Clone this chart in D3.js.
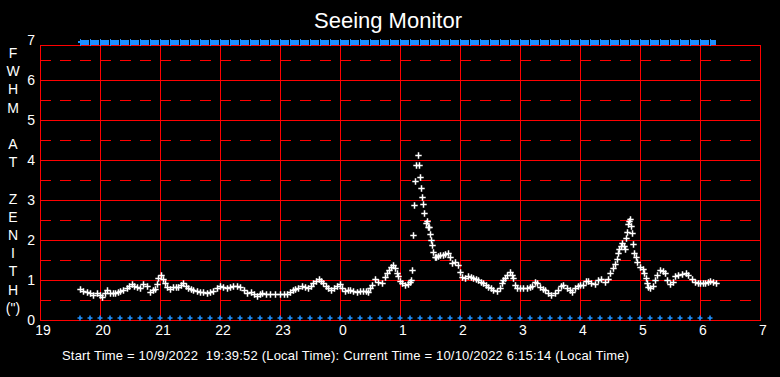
<!DOCTYPE html>
<html><head><meta charset="utf-8">
<script src="https://cdn.jsdelivr.net/npm/d3@7"></script>
<style>html,body{margin:0;padding:0;background:#000;} svg{display:block;}</style>
</head><body><svg id="c" width="780" height="377"></svg>
<script>
const title = "Seeing Monitor";
const yAxisLetters = ["F","W","H","M","","A","T","","Z","E","N","I","T","H","(\")"];
const footer = "Start Time = 10/9/2022  19:39:52 (Local Time): Current Time = 10/10/2022 6:15:14 (Local Time)";
const xTickHours = [19,20,21,22,23,24,25,26,27,28,29,30,31];
const xTickLabels = ["19","20","21","22","23","0","1","2","3","4","5","6","7"];
const yTicks = [0,1,2,3,4,5,6,7];
const yHalfTicks = [0.5,1.5,2.5,3.5,4.5,5.5,6.5];
// minutes after 19:00 on 10/9/2022
const minutes = [40,43,47,50,53,57,60,62,65,67,70,73,75,78,80,83,87,89,92,94,97,100,103,107,110,113,115,117,118,121,123,125,127,130,133,136,138,141,143,146,148,151,153,157,160,163,167,170,173,177,180,183,187,190,193,197,200,204,207,211,214,217,220,222,226,230,235,240,244,247,250,253,255,258,262,265,268,271,273,276,279,281,283,286,288,291,294,297,300,302,305,308,310,313,317,320,323,326,328,330,332,335,338,342,345,347,349,351,353,355,357,358,360,362,365,368,370,371,372,373,374,375,376,378,379,380,381,382,383,384,386,387,388,389,390,391,392,393,395,396,398,400,403,405,408,410,412,415,418,420,422,425,428,431,433,436,438,441,443,446,448,451,453,457,460,462,463,465,467,470,472,473,475,477,480,483,487,490,492,495,497,500,503,505,508,511,515,518,521,523,527,530,532,535,538,540,543,546,548,551,555,558,561,565,568,570,573,575,577,578,579,581,582,584,585,586,587,588,589,590,591,592,593,594,596,597,600,603,604,606,607,608,610,613,615,617,620,623,625,627,630,633,635,638,642,646,648,652,655,658,660,663,665,668,670,673,676];
const fwhm = [.77,.73,.70,.67,.62,.68,.62,.58,.68,.75,.67,.68,.68,.71,.73,.76,.79,.84,.89,.86,.82,.81,.90,.85,.71,.74,.77,.90,1.04,1.12,1.02,.92,.83,.77,.82,.82,.82,.87,.92,.85,.79,.77,.75,.73,.71,.70,.68,.70,.73,.79,.85,.82,.80,.83,.85,.86,.83,.76,.68,.71,.65,.60,.65,.67,.66,.65,.65,.65,.66,.65,.71,.74,.77,.80,.85,.82,.79,.86,.92,.97,1.02,.97,.92,.85,.79,.75,.80,.85,.89,.80,.73,.74,.75,.73,.71,.72,.73,.72,.71,.80,.87,1.02,.96,.92,1.08,1.18,1.25,1.33,1.37,1.29,1.18,1.10,.98,.92,.87,.90,.95,1.0,1.25,2.12,2.87,3.47,3.87,4.12,3.87,3.57,3.29,3.07,2.89,2.67,2.42,2.47,2.33,2.32,2.14,1.99,1.87,1.69,1.58,1.58,1.61,1.62,1.62,1.65,1.67,1.58,1.42,1.46,1.37,1.21,1.08,1.06,1.11,1.08,1.06,1.03,1.0,.96,.92,.88,.83,.79,.75,.73,.79,.92,1.0,1.06,1.12,1.21,1.12,1.04,.87,.81,.79,.79,.79,.83,.85,.96,.92,.83,.77,.74,.68,.62,.68,.76,.85,.87,.79,.75,.71,.79,.84,.87,.87,.97,.97,.93,.89,1.0,1.02,.96,1.02,1.17,1.31,1.40,1.52,1.67,1.77,1.85,1.92,1.85,1.77,2.04,2.21,2.40,2.48,2.52,2.35,2.17,1.89,1.68,1.58,1.46,1.33,1.27,1.18,1.04,.93,.82,.79,.85,1.0,1.12,1.25,1.23,1.17,1.0,.9,.96,1.1,1.12,1.15,1.18,1.12,1.02,.96,.93,.92,.93,.93,.96,.97,.96,.92];
// status flags, every 10 minutes (minutes after 19:00)
const flagMinutes = [40,50,60,70,80,90,100,110,120,130,140,150,160,170,180,190,200,210,220,230,240,250,260,270,280,290,300,310,320,330,340,350,360,370,380,390,400,410,420,430,440,450,460,470,480,490,500,510,520,530,540,550,560,570,580,590,600,610,620,630,640,650,660,670];
const flagEndMinute = 677;
const topFlagValue = 6.94;
const bottomFlagValue = 0.05;

const svg = d3.select("#c");
svg.append("rect").attr("width",780).attr("height",377).attr("fill","#000");
const x = d3.scaleLinear().domain([19,31]).range([40,760]);
const y = d3.scaleLinear().domain([0,7]).range([320,40]);
const h = m => 19 + m/60;
const FONT = "'Liberation Sans', Arial, sans-serif";
const frameTop = y(6.875);

const grid = svg.append("g").attr("shape-rendering","crispEdges").attr("stroke","#ff0000").attr("stroke-width",1);
grid.selectAll("line.v").data(xTickHours.slice(1,-1)).enter().append("line")
  .attr("x1",d=>x(d)).attr("x2",d=>x(d)).attr("y1",frameTop).attr("y2",y(0));
grid.selectAll("line.h").data(yTicks.slice(1,-1)).enter().append("line")
  .attr("x1",x(19)).attr("x2",x(31)).attr("y1",d=>y(d)).attr("y2",d=>y(d));
grid.selectAll("line.d").data(yHalfTicks).enter().append("line")
  .attr("x1",x(19)).attr("x2",x(31)).attr("y1",d=>y(d)).attr("y2",d=>y(d))
  .attr("stroke-dasharray","11 9");
grid.append("rect").attr("x",x(19)).attr("y",frameTop).attr("width",x(31)-x(19)).attr("height",y(0)-frameTop).attr("fill","none");

// top flags
const blue = "#1e90ff";
const tf = svg.append("g").attr("shape-rendering","crispEdges");
tf.selectAll("rect").data(flagMinutes).enter().append("rect")
  .attr("x",d=>Math.round(x(h(d)))+1).attr("y",y(topFlagValue)-2.5)
  .attr("width",d=>Math.round(x(h(Math.min(d+10,flagEndMinute))))-Math.round(x(h(d)))-2).attr("height",5).attr("fill",blue);
tf.selectAll("line").data(flagMinutes).enter().append("line")
  .attr("x1",d=>Math.round(x(h(d)))+0.5).attr("x2",d=>Math.round(x(h(d)))+0.5)
  .attr("y1",y(topFlagValue)-3.5).attr("y2",y(topFlagValue)+3.5).attr("stroke",blue);
tf.append("rect").attr("x",Math.round(x(h(flagMinutes[0])))-2).attr("y",y(topFlagValue)-1).attr("width",2).attr("height",2).attr("fill",blue);

// bottom flags
const plus = (cx,cy,a) => `M${cx-a},${cy}H${cx+a}M${cx},${cy-a}V${cy+a}`;
svg.append("g").selectAll("path").data(flagMinutes).enter().append("path")
  .attr("d",d=>plus(x(h(d)), y(bottomFlagValue), 2.5))
  .attr("stroke",blue).attr("stroke-width",1.6).attr("fill","none");

// data
const pts = minutes.map((m,i)=>({t:h(m), v:fwhm[i]}));
svg.append("g").selectAll("path").data(pts).enter().append("path")
  .attr("d",d=>plus(Math.round(x(d.t))+0.5, Math.round(y(d.v))+0.5, 3.2))
  .attr("stroke","#fff").attr("stroke-width",1.5).attr("fill","none");

// texts
svg.append("text").attr("x",388).attr("y",28).attr("text-anchor","middle")
  .attr("font-family",FONT).attr("font-size",22).attr("fill","#fff").text(title);
svg.append("g").selectAll("text").data(yTicks).enter().append("text")
  .attr("x",35).attr("y",d=>y(d)+5).attr("text-anchor","end")
  .attr("font-family",FONT).attr("font-size",14).attr("fill","#fff").text(d=>d);
svg.append("g").selectAll("text").data(xTickHours).enter().append("text")
  .attr("x",d=>x(d)+3).attr("y",335).attr("text-anchor","middle")
  .attr("font-family",FONT).attr("font-size",14).attr("fill","#fff").text((d,i)=>xTickLabels[i]);
svg.append("g").selectAll("text").data(yAxisLetters).enter().append("text")
  .attr("x",13).attr("y",(d,i)=>53+18.2*i+5).attr("text-anchor","middle")
  .attr("font-family",FONT).attr("font-size",14).attr("fill","#fff").text(d=>d);
svg.append("text").attr("x",62).attr("y",360).attr("xml:space","preserve").style("white-space","pre")
  .attr("textLength",567).attr("lengthAdjust","spacing")
  .attr("font-family",FONT).attr("font-size",13).attr("fill","#fff").text(footer);
</script></body></html>
